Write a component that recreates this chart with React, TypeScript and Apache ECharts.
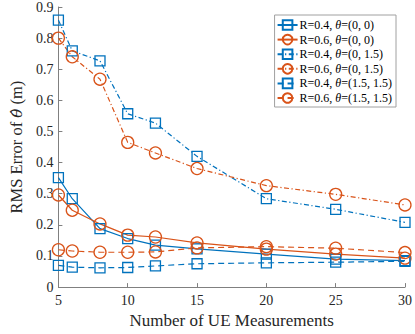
import React, { useEffect, useRef } from "react";
import * as echarts from "echarts";

const xValues = [5, 6, 8, 10, 12, 15, 20, 25, 30];
const r04_00 = [0.352, 0.284, 0.188, 0.156, 0.135, 0.123, 0.106, 0.09, 0.085];
const r06_00 = [0.296, 0.247, 0.203, 0.167, 0.161, 0.142, 0.122, 0.106, 0.093];
const r04_015 = [0.858, 0.759, 0.727, 0.557, 0.527, 0.42, 0.284, 0.25, 0.208];
const r06_015 = [0.8, 0.74, 0.668, 0.465, 0.431, 0.381, 0.326, 0.298, 0.264];
const r04_1515 = [0.07, 0.064, 0.062, 0.063, 0.068, 0.075, 0.078, 0.08, 0.083];
const r06_1515 = [0.12, 0.116, 0.112, 0.112, 0.113, 0.126, 0.13, 0.125, 0.111];

const legendNames = [
  "R=0.4, {i|θ}=(0, 0)",
  "R=0.6, {i|θ}=(0, 0)",
  "R=0.4, {i|θ}=(0, 1.5)",
  "R=0.6, {i|θ}=(0, 1.5)",
  "R=0.4, {i|θ}=(1.5, 1.5)",
  "R=0.6, {i|θ}=(1.5, 1.5)",
];

const BLUE = "#0072BD";
const ORANGE = "#D95319";
const FONT = "Liberation Serif";

export default function App() {
  const ref = useRef<HTMLDivElement>(null);
  useEffect(() => {
    const chart = echarts.init(ref.current!, undefined, { renderer: "svg" });
    const mk = (
      name: string,
      data: number[],
      color: string,
      symbol: string,
      size: number,
      type: any
    ) => ({
      name,
      type: "line",
      data: xValues.map((x, i) => [x, data[i]]),
      symbol,
      symbolSize: size,
      showSymbol: true,
      lineStyle: { color, width: 1.2, type },
      itemStyle: { color: "rgba(255,255,255,0)", borderColor: color, borderWidth: 1.3 },
      emphasis: { disabled: true },
    });
    const dashDot = [5, 2.5, 1.2, 2.5];
    const dashed = [6, 4];
    chart.setOption({
      animation: false,
      backgroundColor: "#fff",
      textStyle: { fontFamily: FONT },
      grid: { left: 44, right: 7, top: 7, bottom: 40, containLabel: false },
      legend: {
        orient: "vertical",
        right: 19,
        top: 15,
        itemWidth: 20,
        itemHeight: 12,
        itemGap: 2.6,
        padding: [4, 4, 3, 2],
        backgroundColor: "#fff",
        borderColor: "#a0a0a0",
        borderWidth: 1,
        borderRadius: 0,
        textStyle: {
          fontFamily: FONT,
          fontSize: 12,
          color: "#000",
          padding: [0, 0, 0, -3],
          rich: { i: { fontStyle: "italic", fontFamily: FONT, fontSize: 12, color: "#000" } },
        },
        data: legendNames,
      },
      xAxis: {
        type: "value",
        min: 5,
        max: 30,
        interval: 5,
        name: "Number of UE Measurements",
        nameLocation: "middle",
        nameGap: 21,
        nameTextStyle: { fontFamily: FONT, fontSize: 17, color: "#262626" },
        axisLine: { lineStyle: { color: "#808080", width: 1 } },
        axisTick: { inside: true, length: 4, lineStyle: { color: "#808080" } },
        axisLabel: { fontFamily: FONT, fontSize: 14, color: "#262626", margin: 6 },
        splitLine: { show: false },
      },
      yAxis: {
        type: "value",
        min: 0,
        max: 0.9,
        interval: 0.1,
        name: "RMS Error of {t|θ̂} (m)",
        nameLocation: "middle",
        nameGap: 28,
        nameTextStyle: {
          fontFamily: FONT,
          fontSize: 16.5,
          color: "#262626",
          rich: {
            t: { fontFamily: "DejaVu Serif", fontStyle: "italic", fontSize: 15, color: "#262626" },
          },
        },
        axisLine: { show: true, lineStyle: { color: "#808080", width: 1 } },
        axisTick: { show: true, inside: true, length: 4, lineStyle: { color: "#808080" } },
        axisLabel: {
          fontFamily: FONT,
          fontSize: 14,
          color: "#262626",
          margin: 5,
          formatter: (v: number) => (v === 0 ? "0" : v.toFixed(1)),
        },
        splitLine: { show: false },
      },
      series: [
        mk(legendNames[0], r04_00, BLUE, "rect", 10, "solid"),
        mk(legendNames[1], r06_00, ORANGE, "circle", 12, "solid"),
        mk(legendNames[2], r04_015, BLUE, "rect", 10, dashDot),
        mk(legendNames[3], r06_015, ORANGE, "circle", 12, dashDot),
        mk(legendNames[4], r04_1515, BLUE, "rect", 10, dashed),
        mk(legendNames[5], r06_1515, ORANGE, "circle", 12, dashed),
      ],
    });
    return () => chart.dispose();
  }, []);
  return <div ref={ref} style={{ width: 415, height: 334, position: "absolute", left: 0, top: 0 }} />;
}
